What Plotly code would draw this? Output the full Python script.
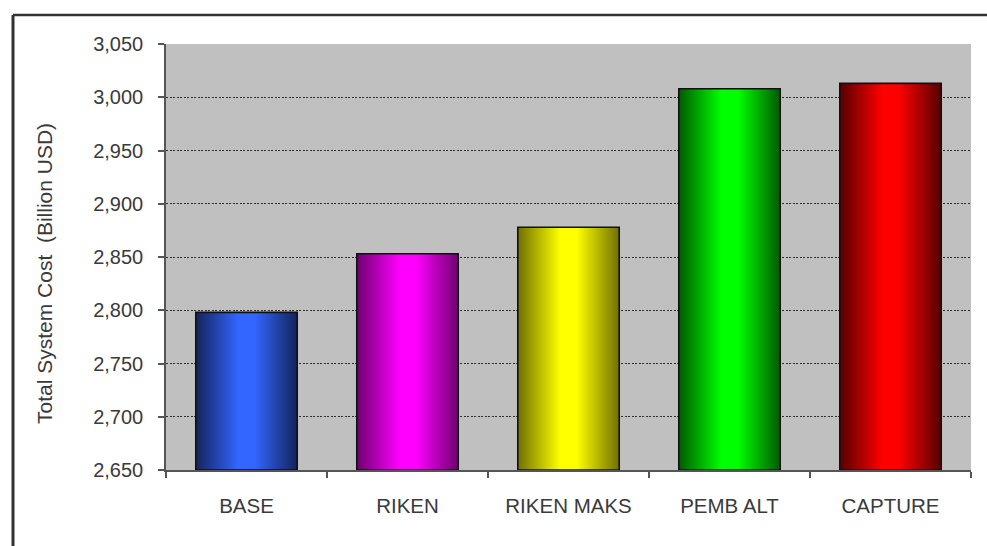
import plotly.graph_objects as go

# Scenario results: total system cost per scenario
categories = ["BASE", "RIKEN", "RIKEN MAKS", "PEMB ALT", "CAPTURE"]
costs = [2798, 2853, 2878, 3008, 3013]

# Cylinder-style shading per bar: (dark edge, bright centre)
bar_shades = [
    ("#14235c", "#3366ff"),
    ("#6e006e", "#ff00ff"),
    ("#707000", "#ffff00"),
    ("#005a00", "#00ff00"),
    ("#550000", "#ff0000"),
]

y_min, y_max, y_step = 2650, 3050, 50
bar_width = 0.63

W, H = 987, 546
margin = dict(l=166, r=16, t=44, b=76)
FONT = "Liberation Sans, Arial, sans-serif"
TEXT_COLOR = "#3a3a3a"

fig = go.Figure()

for i, (name, value, (dark, bright)) in enumerate(zip(categories, costs, bar_shades)):
    x0, x1 = i - bar_width / 2, i + bar_width / 2
    fig.add_trace(
        go.Scatter(
            x=[x0, x0, x1, x1, x0],
            y=[y_min, value, value, y_min, y_min],
            mode="lines",
            fill="toself",
            fillgradient=dict(
                type="horizontal",
                colorscale=[[0, dark], [0.42, bright], [0.58, bright], [1, dark]],
            ),
            line=dict(color="#111111", width=1.6),
            name=name,
            hoveron="fills",
            text=f"{name}: {value:,}",
            hoverinfo="text",
            showlegend=False,
        )
    )

fig.update_xaxes(
    range=[-0.5, len(categories) - 0.5],
    tickvals=list(range(len(categories))),
    ticktext=categories,
    ticks="",
    ticklabelstandoff=17,
    tickfont=dict(family=FONT, size=20.5, color=TEXT_COLOR),
    showgrid=False,
    zeroline=False,
    showline=True,
    linecolor="#555555",
    linewidth=1.5,
    minor=dict(
        tickvals=[k - 0.5 for k in range(len(categories) + 1)],
        ticks="outside",
        ticklen=6,
        tickcolor="#555555",
        tickwidth=1.5,
        showgrid=False,
    ),
    fixedrange=True,
)

fig.update_yaxes(
    range=[y_min, y_max],
    dtick=y_step,
    tick0=y_min,
    tickformat=",d",
    ticks="outside",
    ticklen=6,
    tickcolor="#555555",
    tickwidth=1.5,
    ticklabelstandoff=11,
    tickfont=dict(family=FONT, size=20, color=TEXT_COLOR),
    showgrid=True,
    gridcolor="#303030",
    gridwidth=1,
    griddash="2px,1.5px",
    zeroline=False,
    showline=True,
    linecolor="#555555",
    linewidth=1.5,
    fixedrange=True,
)

# Pixel -> paper coordinate helpers for items placed outside the plot area
plot_w = W - margin["l"] - margin["r"]
plot_h = H - margin["t"] - margin["b"]
def px_to_paper_x(px):
    return (px - margin["l"]) / plot_w
def px_to_paper_y(py):
    return (H - margin["b"] - py) / plot_h

# Vertical axis title, centred on the chart area
fig.add_annotation(
    text="Total System Cost  (Billion USD)",
    xref="paper", yref="paper",
    x=px_to_paper_x(44), y=px_to_paper_y(274),
    xanchor="center", yanchor="middle",
    textangle=-90,
    showarrow=False,
    font=dict(family=FONT, size=21, color=TEXT_COLOR),
)

# Outer chart frame (top and left edges)
frame_left, frame_top = 13, 15
fig.add_shape(
    type="line", xref="paper", yref="paper",
    x0=px_to_paper_x(frame_left), x1=px_to_paper_x(W + 5),
    y0=px_to_paper_y(frame_top), y1=px_to_paper_y(frame_top),
    line=dict(color="#333333", width=2.5),
)
fig.add_shape(
    type="line", xref="paper", yref="paper",
    x0=px_to_paper_x(frame_left), x1=px_to_paper_x(frame_left),
    y0=px_to_paper_y(frame_top), y1=px_to_paper_y(H + 5),
    line=dict(color="#333333", width=3),
)

fig.update_layout(
    width=W,
    height=H,
    margin=margin,
    paper_bgcolor="white",
    plot_bgcolor="#c0c0c0",
    showlegend=False,
    font=dict(family=FONT),
)

fig.write_html("out.html")
